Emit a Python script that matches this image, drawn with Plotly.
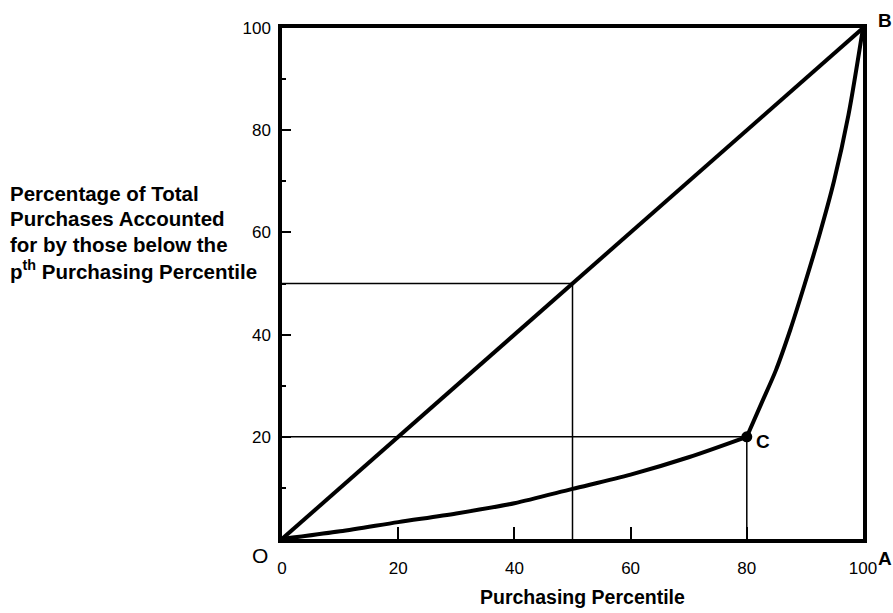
import plotly.graph_objects as go

# Data
diag_x = [0, 100]
diag_y = [0, 100]
lorenz_low_x = [0, 10, 20, 30, 40, 50, 60, 70, 80]
lorenz_low_y = [0, 1.5, 3.3, 5.0, 7.0, 9.8, 12.6, 16.0, 20]
lorenz_high_x = [80, 82.5, 85, 87.5, 90, 92.5, 95, 97.5, 100]
lorenz_high_y = [20, 26.5, 33, 41, 50, 59.5, 70, 83, 100]
point_c = (80, 20)
guide50 = 50
guide20_x, guide20_y = 80, 20
x_ticks = [0, 20, 40, 60, 80, 100]
y_ticks = [20, 40, 60, 80, 100]
y_minor = [10, 30, 50, 70, 90]
x_title = "Purchasing Percentile"
ylabel_lines = ["Percentage of Total", "Purchases Accounted", "for by those below the",
                "p<sup>th</sup> Purchasing Percentile"]

FONT = "Liberation Sans, Arial, Helvetica, sans-serif"
fig = go.Figure()

thin = dict(color="black", width=1.5)
# guide lines
fig.add_trace(go.Scatter(x=[0, guide50, guide50], y=[guide50, guide50, 0], mode="lines", line=thin,
                         hoverinfo="skip", showlegend=False))
fig.add_trace(go.Scatter(x=[0, guide20_x, guide20_x], y=[guide20_y, guide20_y, 0], mode="lines", line=thin,
                         hoverinfo="skip", showlegend=False))
# diagonal
fig.add_trace(go.Scatter(x=diag_x, y=diag_y, mode="lines", line=dict(color="black", width=4),
                         showlegend=False))
# Lorenz curve
fig.add_trace(go.Scatter(x=lorenz_low_x, y=lorenz_low_y, mode="lines",
                         line=dict(color="black", width=4, shape="spline", smoothing=0.8),
                         showlegend=False))
fig.add_trace(go.Scatter(x=lorenz_high_x, y=lorenz_high_y, mode="lines",
                         line=dict(color="black", width=4, shape="spline", smoothing=0.8),
                         showlegend=False))
fig.add_trace(go.Scatter(x=[point_c[0]], y=[point_c[1]], mode="markers",
                         marker=dict(color="black", size=11), showlegend=False))

ann = []
ann.append(dict(x=0, y=0, text="O", showarrow=False, xshift=-22, yshift=-16,
                font=dict(size=21, family=FONT, color="black")))
ann.append(dict(x=100, y=0, text="<b>A</b>", showarrow=False, xshift=22, yshift=-19,
                font=dict(size=19, family=FONT, color="black")))
ann.append(dict(x=100, y=100, text="<b>B</b>", showarrow=False, xshift=22, yshift=8,
                font=dict(size=19, family=FONT, color="black")))
ann.append(dict(x=point_c[0], y=point_c[1], text="<b>C</b>", showarrow=False, xshift=16, yshift=-5,
                font=dict(size=19, family=FONT, color="black")))
# plot area spans x 282..863, y 28..539
line_y = [193, 218, 244, 270]
for t, py in zip(ylabel_lines, line_y):
    ann.append(dict(xref="paper", yref="paper", x=(8 - 282) / 581, y=(539 - py) / 511,
                    xanchor="left", yanchor="middle", text="<b>" + t + "</b>", showarrow=False,
                    font=dict(size=20.5, family=FONT, color="black")))
ann.append(dict(xref="paper", yref="paper", x=(582 - 282) / 581, y=(539 - 597) / 511,
                xanchor="center", yanchor="middle", text="<b>" + x_title + "</b>", showarrow=False,
                font=dict(size=19.5, family=FONT, color="black")))

fig.update_layout(
    width=893, height=613,
    margin=dict(l=282, r=30, t=28, b=74),
    paper_bgcolor="white", plot_bgcolor="white",
    font=dict(family=FONT, color="black"),
    annotations=ann,
    xaxis=dict(range=[0, 100], tickvals=x_ticks, ticks="inside", ticklen=12, tickwidth=1.5,
               tickcolor="black", showgrid=False, zeroline=False, showline=True, linewidth=3.5,
               linecolor="black", mirror=True, tickfont=dict(size=17, family=FONT),
               ticklabelstandoff=11, automargin=False),
    yaxis=dict(range=[0, 100], tickvals=y_ticks, ticks="inside", ticklen=9, tickwidth=1.5,
               tickcolor="black", showgrid=False, zeroline=False, showline=True, linewidth=3.5,
               linecolor="black", mirror=True, tickfont=dict(size=17, family=FONT),
               ticklabelstandoff=4, automargin=False,
               minor=dict(tickmode="array", tickvals=y_minor, ticks="inside", ticklen=4,
                          tickwidth=1.5, tickcolor="black")),
)
fig.write_html("out.html", config={"displayModeBar": False},
               post_script="document.body.style.margin='0';document.body.style.overflow='hidden';")
